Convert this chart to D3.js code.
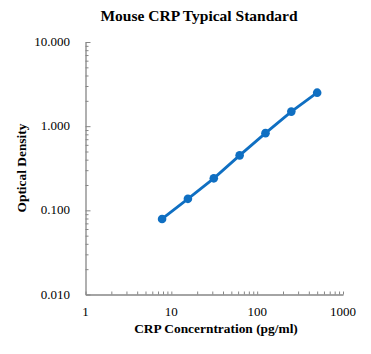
<!DOCTYPE html>
<html><head><meta charset="utf-8">
<script src="https://cdn.jsdelivr.net/npm/d3@7"></script>
<style>body{margin:0;background:#fff}svg{display:block}</style>
</head><body>
<svg id="c" width="371" height="354"></svg>
<script>
const concentrations = [7.8, 15.6, 31.25, 62.5, 125, 250, 500];
const odValues = [0.079, 0.137, 0.240, 0.450, 0.826, 1.49, 2.50];
const xTicks = [1, 10, 100, 1000];
const yTicks = [0.01, 0.1, 1, 10];
const title = "Mouse CRP Typical Standard";
const xTitle = "CRP Concerntration (pg/ml)";
const yTitle = "Optical Density";

const svg = d3.select("#c");
const L = 85.5, R = 343, T = 42, B = 294.5;
const x = d3.scaleLog().domain([1, 1000]).range([L, R]);
const y = d3.scaleLog().domain([0.01, 10]).range([B, T]);
const axisColor = "#868686";
const serif = "'Liberation Serif','Times New Roman',serif";

// minor ticks
const xMinor = [], yMinor = [];
for (let d = 1; d < 1000; d *= 10) for (let k = 2; k <= 9; k++) xMinor.push(d * k);
for (let d = 0.01; d < 10; d *= 10) for (let k = 2; k <= 9; k++) yMinor.push(+(d * k).toPrecision(3));

const gx = svg.append("g").attr("transform", `translate(0,${B})`)
  .call(d3.axisBottom(x).tickValues(xTicks.concat(xMinor)).tickSize(-3).tickSizeOuter(0).tickFormat(""));
const gy = svg.append("g").attr("transform", `translate(${L},0)`)
  .call(d3.axisLeft(y).tickValues(yTicks.concat(yMinor)).tickSize(-3).tickSizeOuter(0).tickFormat(""));
[gx, gy].forEach(g => {
  g.selectAll("path.domain").attr("stroke", axisColor).attr("stroke-width", 1.3);
  g.selectAll(".tick line").attr("stroke", axisColor).attr("stroke-width", 1);
});
gy.selectAll(".tick").filter(d => yTicks.includes(d)).select("line").attr("x2", 5);

// tick labels
svg.append("g").selectAll("text").data(xTicks).join("text")
  .attr("x", d => x(d)).attr("y", B + 21).attr("text-anchor", "middle")
  .attr("font-family", serif).attr("font-size", 13).attr("fill", "#000")
  .text(d => d);
svg.append("g").selectAll("text").data(yTicks).join("text")
  .attr("x", 70).attr("y", d => y(d) + 4).attr("text-anchor", "end")
  .attr("font-family", serif).attr("font-size", 13).attr("fill", "#000")
  .text(d => d.toFixed(3));

// line & markers
const color = "#0f6fc2";
svg.append("path").datum(concentrations.map((c, i) => [c, odValues[i]]))
  .attr("fill", "none").attr("stroke", color).attr("stroke-width", 2.8)
  .attr("d", d3.line().x(d => x(d[0])).y(d => y(d[1])));
svg.append("g").selectAll("circle").data(concentrations).join("circle")
  .attr("cx", d => x(d)).attr("cy", (d, i) => y(odValues[i])).attr("r", 4.3)
  .attr("fill", color);

// titles
svg.append("text").attr("x", 199).attr("y", 21).attr("text-anchor", "middle")
  .attr("font-family", serif).attr("font-weight", "bold").attr("font-size", 15.5).text(title);
svg.append("text").attr("x", 216).attr("y", 333).attr("text-anchor", "middle")
  .attr("font-family", serif).attr("font-weight", "bold").attr("font-size", 13.4).text(xTitle);
svg.append("text").attr("transform", "translate(26,168) rotate(-90)").attr("text-anchor", "middle")
  .attr("font-family", serif).attr("font-weight", "bold").attr("font-size", 13.4).text(yTitle);
</script>
</body></html>
